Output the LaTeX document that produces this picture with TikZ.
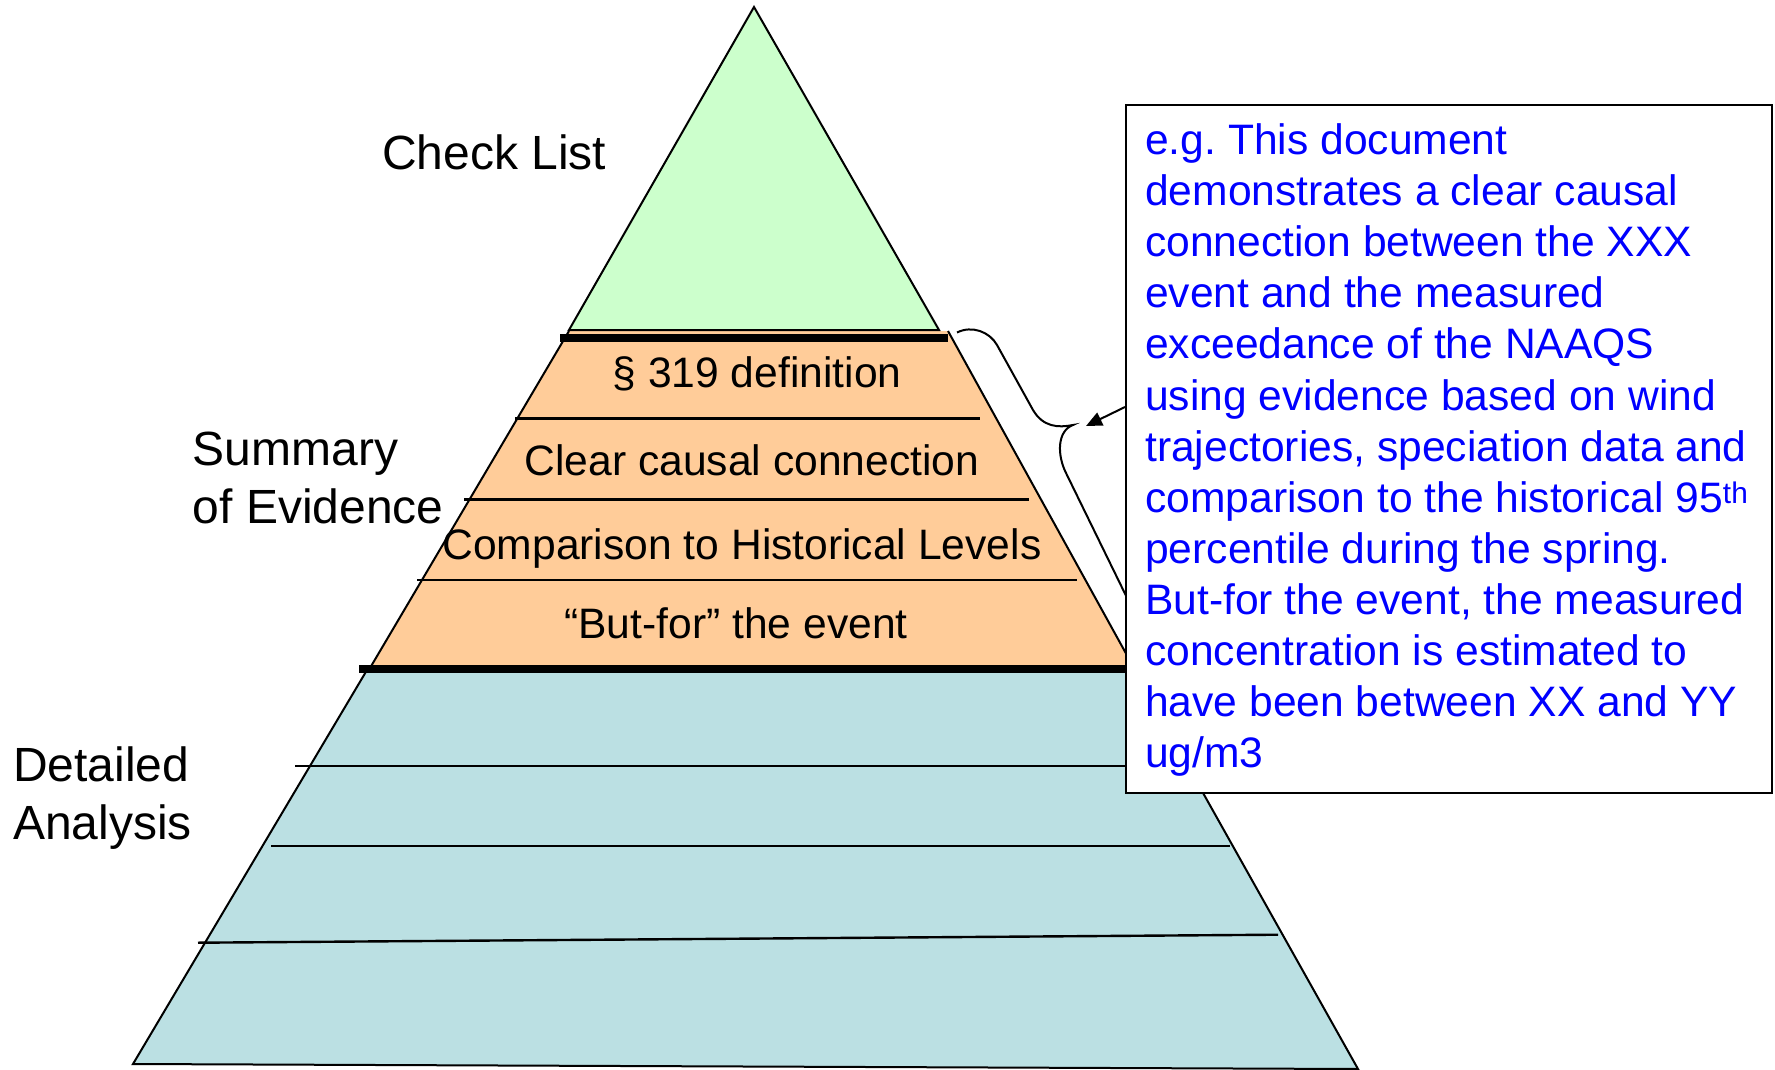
\documentclass[tikz,border=0pt]{standalone}
\usepackage{fontspec}
\setmainfont{Liberation Sans}
\usetikzlibrary{arrows.meta}
\definecolor{lgreen}{RGB}{204,255,204}
\definecolor{lorange}{RGB}{255,204,153}
\definecolor{lteal}{RGB}{187,224,227}
\definecolor{tblue}{RGB}{0,0,255}
\begin{document}
\begin{tikzpicture}[x=1pt,y=-1pt,
  edge/.style={line width=2pt, line join=miter},
  sepline/.style={line width=2.4pt},
  heavyline/.style={line width=7.6pt},
  lbl/.style={font=\fontsize{48}{58}\selectfont, inner sep=0pt, align=left},
  tier/.style={font=\fontsize{42.6}{51}\selectfont, inner sep=0pt, anchor=base},
  notebox/.style={draw, line width=2pt, fill=white, anchor=north west, inner sep=0pt,
                  minimum width=646pt, minimum height=688pt},
  notetext/.style={font=\fontsize{42.6}{51.1}\selectfont, text=tblue, align=left,
                   anchor=north west, inner sep=0pt}]
\useasboundingbox (0,0) rectangle (1775,1070);

% bottom tier (teal)
\fill[lteal] (367,670) -- (1134,670) -- (1358,1069) -- (133,1064) -- cycle;
\draw[edge] (367,670) -- (133,1064) -- (1358,1069) -- (1134,670);
% middle tier (orange)
\fill[lorange] (569,331) -- (948,331) -- (1134,668) -- (370,668) -- cycle;
\draw[edge] (569,331) -- (370,668);
\draw[edge] (948,331) -- (1134,668);
% top tier (green)
\filldraw[fill=lgreen, edge] (754,7) -- (939,330) -- (569,330) -- cycle;

% separators in orange tier
\draw[sepline] (515,418.3) -- (980,418.3);
\draw[sepline] (464,499.3) -- (1029,499.3);
\draw[sepline] (417,580) -- (1077,580);
% separators in teal tier
\draw[sepline] (295,765.7) -- (1125,765.7);
\draw[sepline] (271,846) -- (1230,846);
\draw[sepline] (198,942.7) -- (1278,934.7);
% heavy lines
\draw[heavyline] (560,338) -- (948,338);
\draw[heavyline] (359,669) -- (1125,669);

% brace
\draw[line width=2pt] (957,332.5) .. controls (972,325) and (989.7,331.9) .. (997,345)
  -- (1033,410) .. controls (1043,427) and (1058,428) .. (1073,425)
  .. controls (1057,431) and (1057,455) .. (1066,473) -- (1132,608);

% note box
\node[notebox] (box) at (1125,104) {};
\coordinate (arrtip) at (1086,426);
\draw[line width=2pt, -{Triangle[length=16pt,width=14pt]}] ([yshift=-303pt]box.north west) -- (arrtip);
\node[notetext] (boxtext) at (1145,123.5) {e.g.\ This document\\
demonstrates a clear causal\\
connection between the XXX\\
event and the measured\\
exceedance of the NAAQS\\
using evidence based on wind\\
trajectories, speciation data and\\
comparison to the historical 95\textsuperscript{th}\\
percentile during the spring.\\
But-for the event, the measured\\
concentration is estimated to\\
have been between XX and YY\\
ug/m3};

% tier texts
\node[tier] (t1) at (757,387) {§ 319 definition};
\node[tier] (t2) at (752,475) {Clear causal connection};
\node[tier] (t3) at (742,559.5) {Comparison to Historical Levels};
\node[tier] (t4) at (736,638) {“But-for” the event};

% side labels
\node[lbl, anchor=base west] (check) at (382,170) {Check List};
\node[lbl, anchor=north west] (summary) at (192.5,432) {Summary\\of Evidence};
\node[lbl, anchor=north west] (detailed) at (13,747) {Detailed\\Analysis};
\end{tikzpicture}
\end{document}
